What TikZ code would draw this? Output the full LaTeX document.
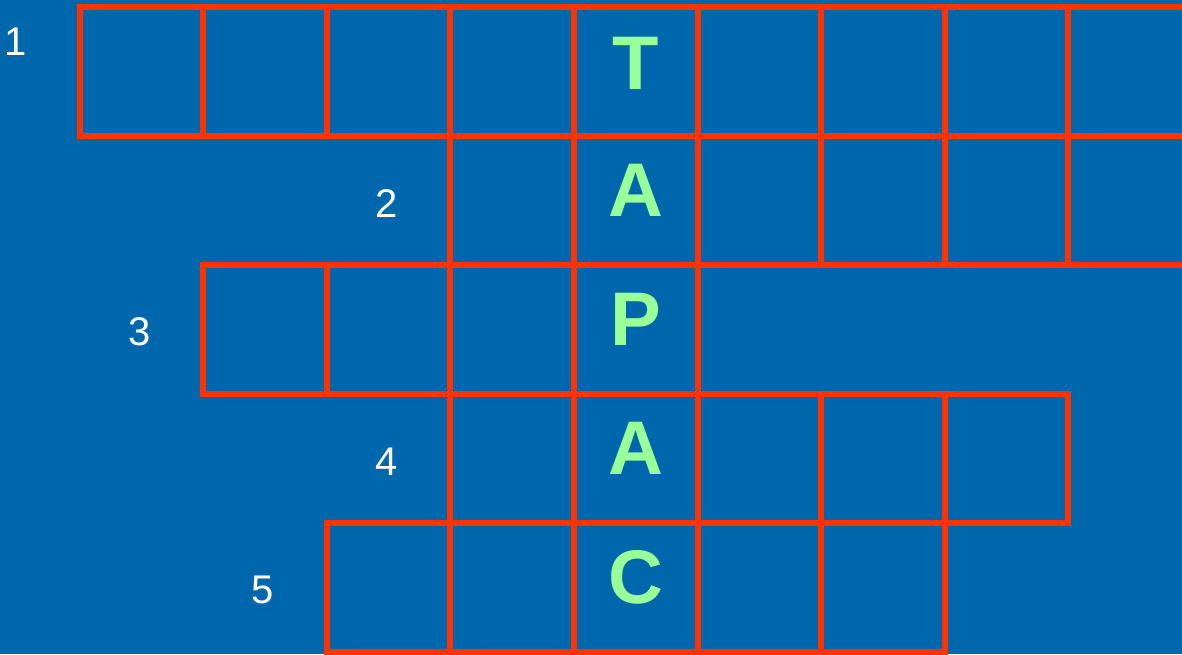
\documentclass[tikz,border=0pt]{standalone}
\usepackage{fontspec}
\setmainfont{Liberation Sans}
\usetikzlibrary{calc}
\definecolor{bgblue}{RGB}{0,103,172}
\definecolor{gridred}{RGB}{255,51,0}
\definecolor{lettergreen}{RGB}{153,255,153}
\tikzset{
  cell/.style={draw=gridred, line width=6pt, minimum width=123.6pt, minimum height=129pt,
    inner sep=0pt, outer sep=0pt, anchor=north west},
  letter/.style={text=lettergreen, font=\fontsize{76}{76}\selectfont\bfseries, inner sep=0pt, anchor=base},
  num/.style={text=white, font=\fontsize{40}{40}\selectfont, inner sep=0pt, anchor=base}
}
\begin{document}
\begin{tikzpicture}[x=1pt,y=-1pt]
\fill[bgblue] (0,0) rectangle (1182,654);
\useasboundingbox (0,0) rectangle (1182,654);
\clip (0,0) rectangle (1182,654);
% row 1: columns 0..8
\foreach \c in {0,...,8} {
  \node[cell] (r1c\c) at ({79.5+123.6*\c},7) {};
}
% row 2: columns 3..8
\foreach \c in {3,...,8} {
  \node[cell] (r2c\c) at ({79.5+123.6*\c},136) {};
}
% row 3: columns 1..4
\foreach \c in {1,...,4} {
  \node[cell] (r3c\c) at ({79.5+123.6*\c},265) {};
}
% row 4: columns 3..7
\foreach \c in {3,...,7} {
  \node[cell] (r4c\c) at ({79.5+123.6*\c},394) {};
}
% row 5: columns 2..6
\foreach \c in {2,...,6} {
  \node[cell] (r5c\c) at ({79.5+123.6*\c},523) {};
}
% letters
\node[letter] (l1) at ($(r1c4.north)+(0,82)$) {Т};
\node[letter] (l2) at ($(r2c4.north)+(0,80)$) {А};
\node[letter] (l3) at ($(r3c4.north)+(0,80)$) {Р};
\node[letter] (l4) at ($(r4c4.north)+(0,80)$) {А};
\node[letter] (l5) at ($(r5c4.north)+(0,80)$) {С};
% numbers
\node[num] (n1) at (16,55) {1};
\node[num] (n2) at (387,217) {2};
\node[num] (n3) at (140,345) {3};
\node[num] (n4) at (387,475) {4};
\node[num] (n5) at (263,603) {5};
\end{tikzpicture}
\end{document}
